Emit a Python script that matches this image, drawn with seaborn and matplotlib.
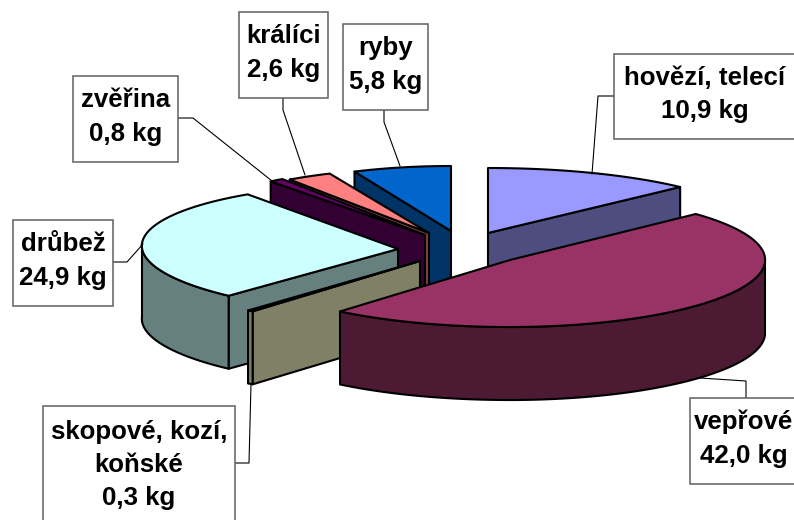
import numpy as np
import matplotlib
matplotlib.use('Agg')
import matplotlib.pyplot as plt
import seaborn as sns
from matplotlib.patches import Polygon, Rectangle

sns.set_theme(style='white')
plt.rcParams['font.family'] = ['Liberation Sans', 'DejaVu Sans']

# data, clockwise from 12 o'clock
categories = ['hovězí, telecí', 'vepřové', 'skopové, kozí,\nkoňské', 'drůbež', 'zvěřina', 'králíci', 'ryby']
values = [10.9, 42.0, 0.3, 24.9, 0.8, 2.6, 5.8]
tick_labels = ['10,9 kg', '42,0 kg', '0,3 kg', '24,9 kg', '0,8 kg', '2,6 kg', '5,8 kg']
top_colors = ['#9999FF', '#993366', '#FFFFCC', '#CCFFFF', '#660066', '#FF8080', '#0066CC']

# layout of each exploded slice in picture pixels
apex_x = [488, 510, 420, 398, 425, 429, 451]
apex_y = [233, 260, 261, 249, 235, 233, 231]
radius_left = [255, 265, 271, 256, 251, 245, 238]
radius_right = [272, 255, 258, 258, 258, 258, 258]
radius_y = [65, 67, 64, 65, 68, 65, 65]
skew_x = [0, 8, 0, 9, 0, 0, 0]
skew_y = [0, 2, 0, 5.5, 0, 0, 0]
depth = 73
draw_order = [0, 6, 5, 4, 3, 2, 1]

# label boxes: left, top, right, bottom
boxes = [(614, 54, 796, 139), (690, 398, 798, 484), (43, 406, 235, 528), (13, 220, 113, 306),
         (73, 76, 178, 162), (239, 12, 328, 98), (343, 24, 428, 110)]
leaders = [[(614, 96), (598, 96), (592, 174)],
           [(746, 398), (746, 381), (700, 378)],
           [(235, 463), (249, 463), (251, 384)],
           [(113, 262), (127, 262), (143, 244)],
           [(178, 118), (193, 118), (272, 181)],
           [(283, 98), (283, 110), (305, 175)],
           [(384, 110), (384, 122), (400, 166)]]

fractions = np.array(values) / sum(values)
edges = np.concatenate([[0], np.cumsum(fractions)]) * 2 * np.pi


def rim(i, theta):
    s, c = np.sin(theta), np.cos(theta)
    rx = np.where(s < 0, radius_left[i], radius_right[i])
    return np.column_stack([apex_x[i] + rx * s + skew_x[i] * c,
                            apex_y[i] - radius_y[i] * c + skew_y[i] * s])


def dark(color):
    # the side walls are the top colour at half strength
    return tuple(v / 2 for v in matplotlib.colors.to_rgb(color))


fig = plt.figure(figsize=(7.94, 5.2), dpi=100)
ax = fig.add_axes([0, 0, 1, 1])
ax.set_xlim(0, 794)
ax.set_ylim(520, 0)
ax.axis('off')

line = dict(edgecolor='black', linewidth=1.5, joinstyle='round')
drop = np.array([0, depth])

for i in draw_order:
    start, end = edges[i], edges[i + 1]
    apex = np.array([apex_x[i], apex_y[i]])
    side = dark(top_colors[i])

    # flat cut faces turned towards the viewer
    for angle, visible in [(start, np.sin(start) < -1e-6), (end, np.sin(end) > 1e-6)]:
        if visible:
            outer = rim(i, np.array([angle]))[0]
            ax.add_patch(Polygon([apex, outer, outer + drop, apex + drop], facecolor=side, **line))

    # outer wall, only the front half of the circle shows
    lo, hi = max(start, np.pi / 2), min(end, 3 * np.pi / 2)
    if lo < hi:
        arc = rim(i, np.linspace(lo, hi, 80))
        ax.add_patch(Polygon(np.vstack([arc, (arc + drop)[::-1]]), facecolor=side, **line))

    arc = rim(i, np.linspace(start, end, 80))
    ax.add_patch(Polygon(np.vstack([[apex], arc]), facecolor=top_colors[i], **line))

for i, name in enumerate(categories):
    left, top, right, bottom = boxes[i]
    pts = np.array(leaders[i])
    ax.plot(pts[:, 0], pts[:, 1], color='black', lw=0.8, zorder=5)
    ax.add_patch(Rectangle((left, top), right - left, bottom - top, facecolor='white',
                           edgecolor='#606060', linewidth=1.1, zorder=6))
    ax.text((left + right) / 2, (top + bottom) / 2 - 2, name + '\n' + tick_labels[i],
            ha='center', va='center', fontsize=18.6, fontweight='bold',
            color='black', linespacing=1.5, zorder=7)

fig.savefig('out.png', dpi=100)
